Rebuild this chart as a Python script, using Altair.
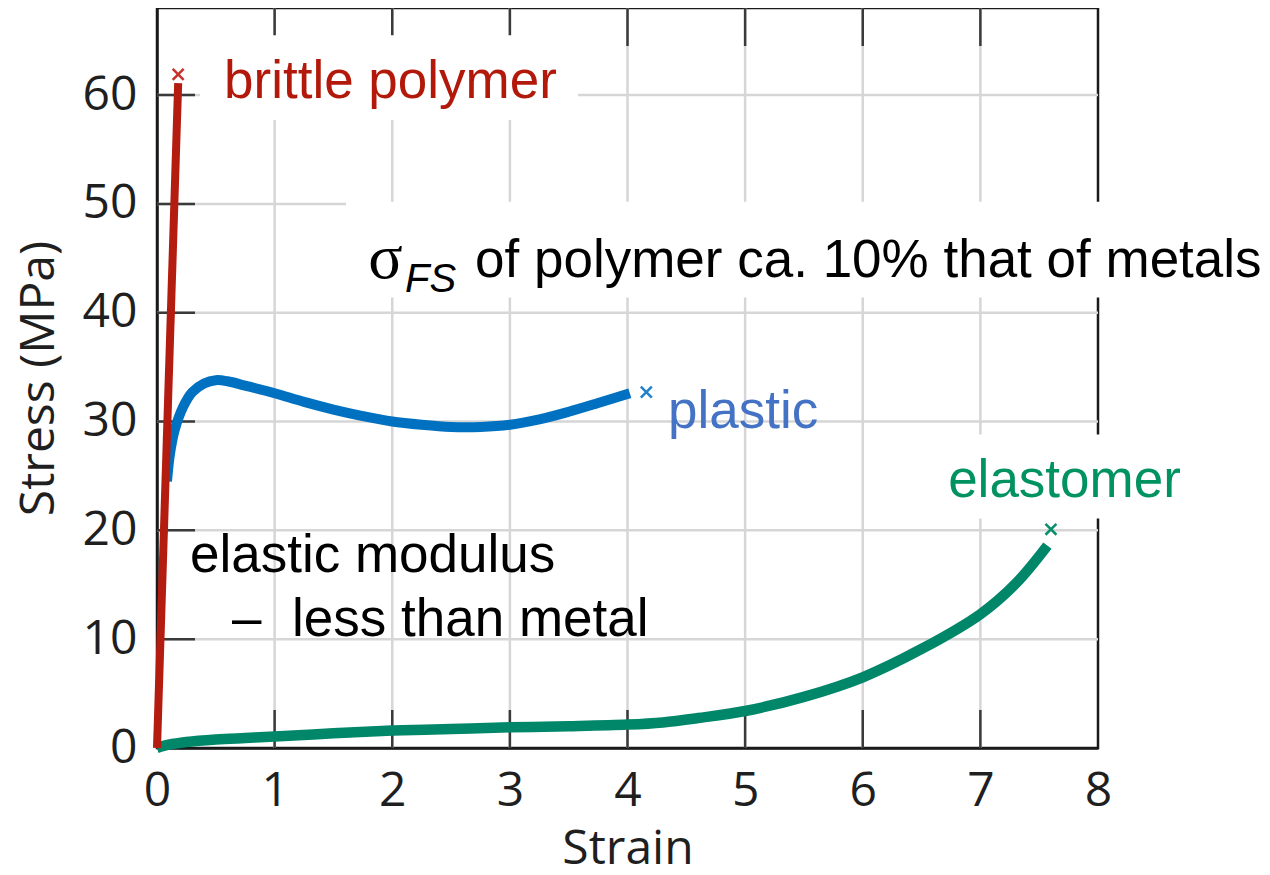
import altair as alt
import pandas as pd

# ---------------- data ----------------
brittle_strain = [0.0, 0.18]
brittle_stress = [0.0, 61.1]

plastic_strain = [0.085, 0.11, 0.15, 0.22, 0.30, 0.40, 0.50, 0.60, 0.75, 1.00, 1.25, 1.50,
                  1.75, 2.00, 2.25, 2.50, 2.75, 3.00, 3.25, 3.50, 3.75, 4.02]
plastic_stress = [24.5, 27.0, 29.2, 31.3, 32.7, 33.5, 33.8, 33.7, 33.3, 32.6, 31.8, 31.1,
                  30.5, 30.0, 29.7, 29.5, 29.5, 29.7, 30.2, 30.9, 31.7, 32.6]

elast_strain = [0.0, 0.10, 0.25, 0.50, 0.75, 1.00, 1.50, 2.00, 2.50, 3.00, 3.50, 4.00,
                4.30, 4.60, 5.00, 5.50, 6.00, 6.50, 7.00, 7.30, 7.57]
elast_stress = [0.0, 0.30, 0.55, 0.78, 0.92, 1.05, 1.35, 1.60, 1.75, 1.90, 2.00, 2.15,
                2.35, 2.75, 3.40, 4.70, 6.50, 9.10, 12.30, 15.10, 18.60]

break_series = ["brittle polymer", "plastic", "elastomer"]
break_strain = [0.18, 4.16, 7.60]
break_stress = [61.9, 32.7, 20.1]
break_color = ["#c8302a", "#1f80cc", "#0a8f6e"]

x_ticks = [0, 1, 2, 3, 4, 5, 6, 7, 8]
y_ticks = [0, 10, 20, 30, 40, 50, 60]
x_inner_ticks = [1, 2, 3, 4, 5, 6, 7]
y_inner_ticks = [10, 20, 30, 40, 50, 60]

# annotations (text placed in data units)
label_text = ["brittle polymer", "of polymer ca. 10% that of metals", "plastic",
              "elastomer", "elastic modulus", "\u2013", "less than metal"]
label_x = [0.570, 2.704, 4.345, 6.726, 0.280, 0.638, 1.148]
label_y = [59.7, 43.3, 29.4, 23.1, 16.2, 10.3, 10.3]
label_color = ["#b3190a", "#000000", "#4472c4", "#009260", "#000000", "#000000", "#000000"]

sigma_text = ["\u03c3"]
sigma_x = [1.795]
sigma_y = [43.2]
sub_text = ["FS"]
sub_x = [2.109]
sub_y = [41.9]

box_x = [0.366, 1.607, 6.62]
box_x2 = [3.58, 9.50, 8.87]
box_y = [57.7, 41.4, 21.1]
box_y2 = [65.5, 50.2, 28.8]

# ---------------- scales / axes ----------------
Y_MAX = 68
X_MAX = 8
PLOT_W, PLOT_H = 941, 740
TICK_LEN = 38  # px, inward tick length
TICK_Y = TICK_LEN / PLOT_H * Y_MAX
TICK_X = TICK_LEN / PLOT_W * X_MAX

# ---------------- tables ----------------
brittle_df = pd.DataFrame({"strain": brittle_strain, "stress": brittle_stress})
plastic_df = pd.DataFrame({"strain": plastic_strain, "stress": plastic_stress})
elast_df = pd.DataFrame({"strain": elast_strain, "stress": elast_stress})
break_df = pd.DataFrame({"series": break_series, "strain": break_strain,
                         "stress": break_stress, "color": break_color})
vgrid_df = pd.DataFrame({"strain": x_inner_ticks,
                         "stress": [0.0] * len(x_inner_ticks),
                         "stress2": [float(Y_MAX)] * len(x_inner_ticks)})
hgrid_df = pd.DataFrame({"stress": y_inner_ticks,
                         "strain": [0.0] * len(y_inner_ticks),
                         "strain2": [float(X_MAX)] * len(y_inner_ticks)})
top_tick_df = pd.DataFrame({"strain": x_inner_ticks,
                            "stress": [float(Y_MAX)] * len(x_inner_ticks),
                            "stress2": [Y_MAX - TICK_Y] * len(x_inner_ticks)})
bot_tick_df = pd.DataFrame({"strain": x_inner_ticks,
                            "stress": [0.0] * len(x_inner_ticks),
                            "stress2": [TICK_Y] * len(x_inner_ticks)})
left_tick_df = pd.DataFrame({"stress": y_inner_ticks,
                             "strain": [0.0] * len(y_inner_ticks),
                             "strain2": [TICK_X] * len(y_inner_ticks)})
label_df = pd.DataFrame({"text": label_text, "strain": label_x, "stress": label_y,
                         "color": label_color})
sigma_df = pd.DataFrame({"text": sigma_text, "strain": sigma_x, "stress": sigma_y})
sub_df = pd.DataFrame({"text": sub_text, "strain": sub_x, "stress": sub_y})
box_df = pd.DataFrame({"strain": box_x, "strain2": box_x2, "stress": box_y, "stress2": box_y2})

xs = alt.Scale(domain=[0, X_MAX], nice=False, zero=False)
ys = alt.Scale(domain=[0, Y_MAX], nice=False, zero=False)

x_axis = alt.Axis(values=x_ticks, format="d", ticks=False, grid=False, labelFont="Open Sans",
                  labelFontSize=48, labelColor="#1f1f1f", labelPadding=19, labelFlush=False,
                  labelOverlap=False, domainColor="#1a1a1a", domainWidth=2.5,
                  titleFont="Open Sans", titleFontSize=48, titleFontWeight="normal",
                  titleColor="#1f1f1f", titleBaseline="alphabetic", titleY=115)
y_axis = alt.Axis(values=y_ticks, format="d", ticks=False, grid=False, labelFont="Open Sans",
                  labelFontSize=48, labelColor="#1f1f1f", labelPadding=20, labelFlush=False,
                  labelOverlap=False, domainColor="#1a1a1a", domainWidth=2.5,
                  titleFont="Open Sans", titleFontSize=48, titleFontWeight="normal",
                  titleColor="#1f1f1f", titleBaseline="alphabetic", titleAngle=270,
                  titleX=-104, titleY=370, titleAlign="center")


def X(field="strain"):
    return alt.X(f"{field}:Q", scale=xs, axis=x_axis, title="Strain")


def Y(field="stress"):
    return alt.Y(f"{field}:Q", scale=ys, axis=y_axis, title="Stress (MPa)")


grid_style = dict(color="#d6d6d6", strokeWidth=2.5)
vgrid = alt.Chart(vgrid_df).mark_rule(**grid_style).encode(x=X(), y=Y(), y2="stress2:Q")
hgrid = alt.Chart(hgrid_df).mark_rule(**grid_style).encode(y=Y(), x=X(), x2="strain2:Q")

tick_style = dict(color="#3a3a3a", strokeWidth=2.5)
top_ticks = alt.Chart(top_tick_df).mark_rule(**tick_style).encode(
    x=X(), y=Y(), y2="stress2:Q")
bottom_ticks = alt.Chart(bot_tick_df).mark_rule(**tick_style).encode(
    x=X(), y=Y(), y2="stress2:Q")
left_ticks = alt.Chart(left_tick_df).mark_rule(**tick_style).encode(
    y=Y(), x=X(), x2="strain2:Q")

plastic_line = alt.Chart(plastic_df).mark_line(
    color="#0071c1", strokeWidth=10, interpolate="catmull-rom", strokeCap="butt").encode(
    x=X(), y=Y(), order="strain:Q")
elast_line = alt.Chart(elast_df).mark_line(
    color="#008769", strokeWidth=10.5, interpolate="catmull-rom", strokeCap="butt").encode(
    x=X(), y=Y(), order="strain:Q")
brittle_line = alt.Chart(brittle_df).mark_line(
    color="#b51c10", strokeWidth=8, strokeCap="butt").encode(
    x=X(), y=Y(), order="strain:Q")

breaks = alt.Chart(break_df).mark_point(
    shape="M-1,-1L1,1M-1,1L1,-1", filled=False, strokeWidth=2.5, size=120, opacity=1).encode(
    x=X(), y=Y(), color=alt.Color("color:N", scale=None))

boxes = alt.Chart(box_df).mark_rect(color="white", opacity=1).encode(
    x=X(), x2="strain2:Q", y=Y(), y2="stress2:Q")

labels = alt.Chart(label_df).mark_text(
    font="Liberation Sans", fontSize=53, align="left", baseline="alphabetic").encode(
    x=X(), y=Y(), text="text:N", color=alt.Color("color:N", scale=None))

sigma = alt.Chart(sigma_df).mark_text(
    font="Liberation Serif", fontSize=64, align="left", baseline="alphabetic",
    color="#000000").encode(x=X(), y=Y(), text="text:N")

sub = alt.Chart(sub_df).mark_text(
    font="Liberation Sans", fontSize=40, fontStyle="italic", align="left",
    baseline="alphabetic", color="#000000").encode(x=X(), y=Y(), text="text:N")

chart = alt.layer(
    vgrid, hgrid,
    top_ticks, bottom_ticks, left_ticks,
    plastic_line, elast_line, brittle_line, breaks,
    boxes, labels, sigma, sub,
).properties(
    width=PLOT_W, height=PLOT_H,
    autosize=alt.AutoSizeParams(type="none"),
    padding={"left": 149, "top": 0, "right": 164, "bottom": 119},
    background="white",
).configure_view(
    stroke="#1a1a1a", strokeWidth=2.5,
)

chart.save("out.html", embed_options={"renderer": "svg", "actions": False})
